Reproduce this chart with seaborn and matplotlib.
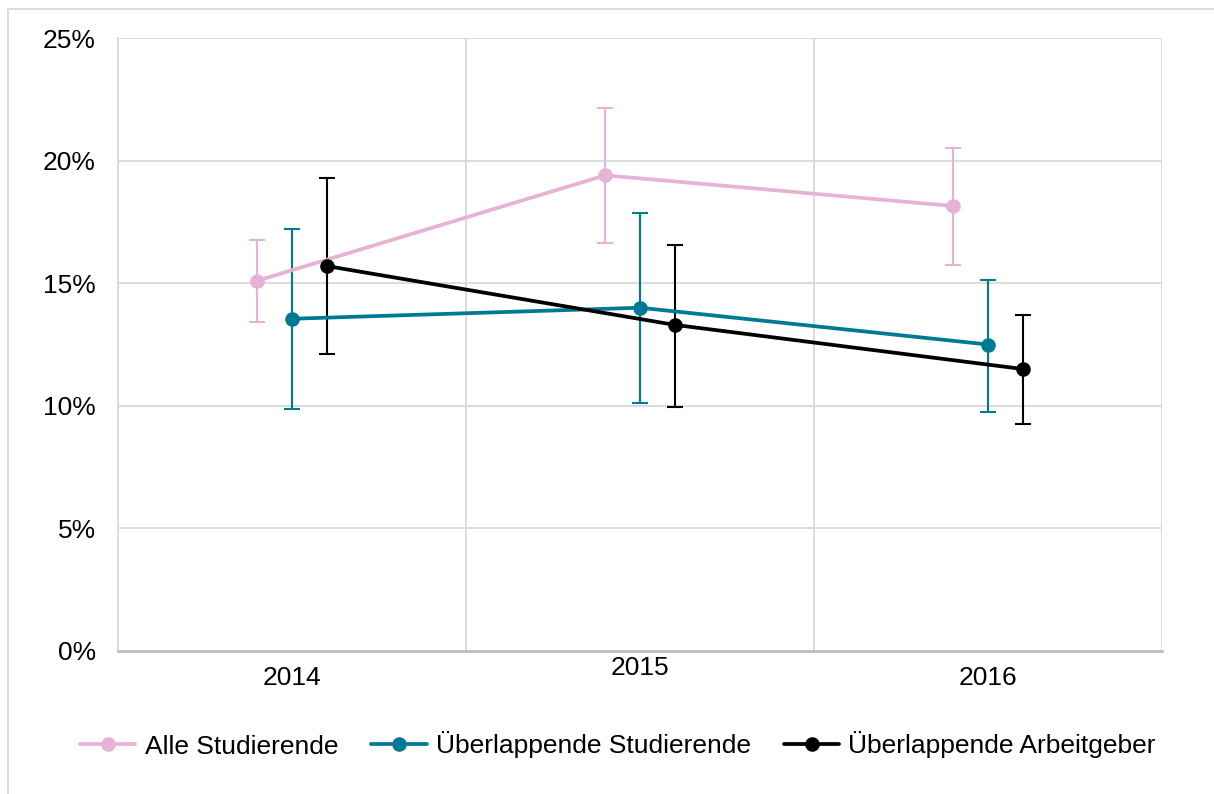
import numpy as np
import pandas as pd
import seaborn as sns
import matplotlib.pyplot as plt
from matplotlib.patches import Rectangle
from matplotlib.transforms import ScaledTranslation

years = ["2014", "2015", "2016"]
series = ["Alle Studierende", "Überlappende Studierende", "Überlappende Arbeitgeber"]
colors = ["#E6B3D4", "#007A94", "#000000"]

alle = [15.1, 19.4, 18.15]
alle_lo = [13.4, 16.65, 15.75]
alle_hi = [16.75, 22.15, 20.5]

ueb_stud = [13.55, 14.0, 12.5]
ueb_stud_lo = [9.85, 10.1, 9.75]
ueb_stud_hi = [17.2, 17.85, 15.15]

ueb_arb = [15.7, 13.3, 11.5]
ueb_arb_lo = [12.1, 9.95, 9.25]
ueb_arb_hi = [19.3, 16.55, 13.7]

vals = [alle, ueb_stud, ueb_arb]
los = [alle_lo, ueb_stud_lo, ueb_arb_lo]
his = [alle_hi, ueb_stud_hi, ueb_arb_hi]
offsets = [-0.1, 0.0, 0.1]

rows = []
for s, v, off in zip(series, vals, offsets):
    for i, y in enumerate(v):
        rows.append({"x": i + off, "wert": y, "serie": s})
df = pd.DataFrame(rows)

sns.set_style("white")
plt.rcParams["font.family"] = ["Liberation Sans", "DejaVu Sans"]
plt.rcParams["text.color"] = "black"

fig = plt.figure(figsize=(12.14, 7.94), dpi=100)
ax = fig.add_axes([118 / 1214, 1 - 651 / 794, (1162 - 118) / 1214, (651 - 38) / 794])

sns.lineplot(data=df, x="x", y="wert", hue="serie", style="serie",
             palette=dict(zip(series, colors)), markers={s: "o" for s in series},
             dashes=False, linewidth=2.7, markersize=10.5, markeredgewidth=0,
             ax=ax, legend=True)

for s, v, lo, hi, off, c in zip(series, vals, los, his, offsets, colors):
    x = np.arange(len(v)) + off
    yerr = [np.array(v) - np.array(lo), np.array(hi) - np.array(v)]
    ax.errorbar(x, v, yerr=yerr, fmt="none", ecolor=c, elinewidth=1.5,
                capsize=5.5, capthick=1.5, zorder=1)

ax.set_xlim(-0.5, 2.5)
ax.set_ylim(0, 25)
ax.set_yticks([0, 5, 10, 15, 20, 25])
ax.set_yticklabels([f"{t}%" for t in [0, 5, 10, 15, 20, 25]])
ax.set_xticks([0, 1, 2])
ax.set_xticklabels(years)
ax.set_xticks([0.5, 1.5, 2.5], minor=True)
ax.grid(True, axis="y", color="#D9D9D9", linewidth=1.3)
ax.grid(True, axis="x", which="minor", color="#D9D9D9", linewidth=1.3)
ax.grid(False, axis="x", which="major")
ax.set_axisbelow(True)
ax.tick_params(axis="both", which="both", length=0, labelsize=19, colors="black")
ax.tick_params(axis="y", pad=16)
ax.tick_params(axis="x", pad=11)
ax.set_xlabel("")
ax.set_ylabel("")

for side in ["top", "right"]:
    ax.spines[side].set_visible(False)
ax.spines["left"].set_color("#D9D9D9")
ax.spines["left"].set_linewidth(1.3)
ax.spines["bottom"].set_color("#BFBFBF")
ax.spines["bottom"].set_linewidth(2)

lab = ax.get_xticklabels()[1]
lab.set_transform(lab.get_transform() + ScaledTranslation(0, 10 / 100, fig.dpi_scale_trans))

handles, labels = ax.get_legend_handles_labels()
ax.get_legend().remove()
fig.legend(handles, labels, loc="center", bbox_to_anchor=(618 / 1214, 1 - 745 / 794),
           ncol=3, frameon=False, fontsize=19, handlelength=2.1,
           handletextpad=0.35, columnspacing=1.25, labelcolor="black")

fig.patches.append(Rectangle((8 / 1214, -0.01), 1.2, 1 - 9 / 794 + 0.01,
                             transform=fig.transFigure, fill=False,
                             edgecolor="#D9D9D9", linewidth=1.3))

fig.savefig("out.png", dpi=100)
